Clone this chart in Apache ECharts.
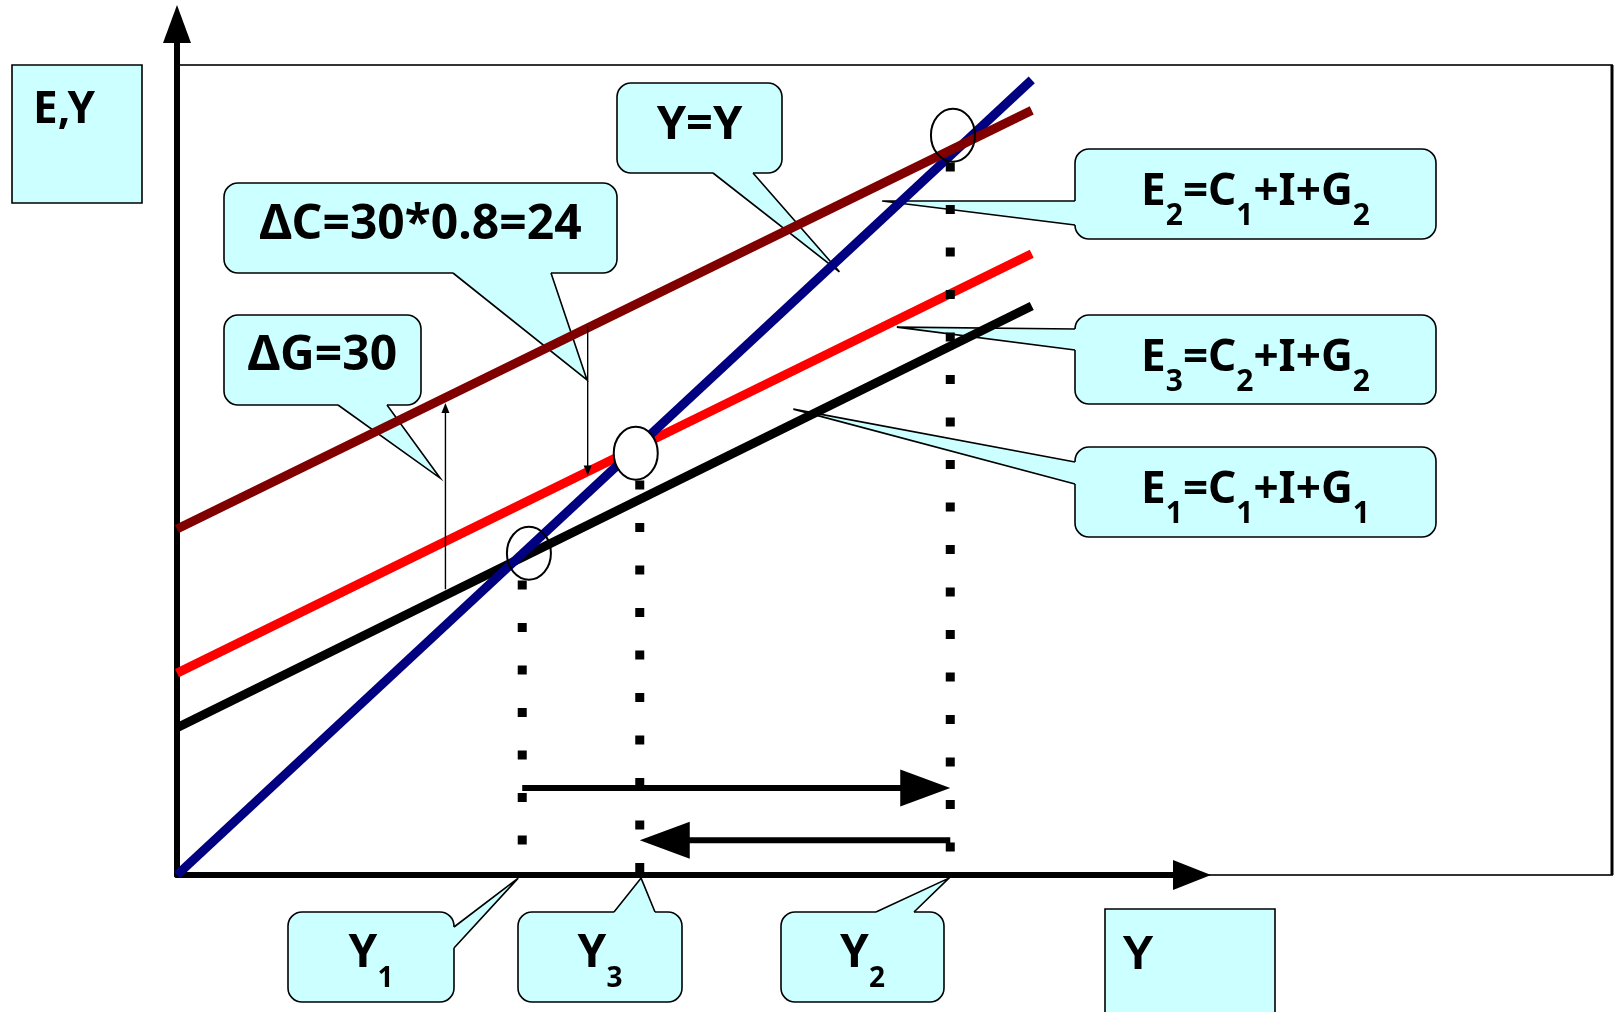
<!DOCTYPE html>
<html>
<head>
<meta charset="utf-8">
<script src="https://cdn.jsdelivr.net/npm/echarts@6/dist/echarts.min.js"></script>
<style>
  html, body { margin: 0; padding: 0; background: #ffffff; }
  #chart { width: 1616px; height: 1012px; }
</style>
</head>
<body>
<div id="chart"></div>
<script>
// Keynesian cross: a rise in G shifts E1 to E2, a fall in C then pulls it back to E3.

// ---------- data (axis units) ----------
const axisMaxY = 137;          // E,Y axis
const axisMaxX = 152;          // Y axis

const lineSpan = [0, 128];              // income range over which the lines are drawn
const outputLine = [0, 128];            // Y = Y (45-degree line)
const expenditure1 = [23.7, 91.6];      // E1 = C1 + I + G1
const expenditure3 = [32.5, 100.0];     // E3 = C2 + I + G2
const expenditure2 = [55.7, 123.1];     // E2 = C1 + I + G2

const equilibriumIncome = [51.7, 69.3, 115.8];   // Y1, Y3, Y2
const dropLineTop = [47.4, 63.5, 114.7];         // upper end of each dotted drop line
const ringX = [52.7, 68.7, 116.2];
const ringY = [51.8, 67.9, 119.1];

const deltaG = 30;
const deltaC = 24;
const deltaGBase = [40.2, 46.0];   // [Y, E] foot of the government-spending arrow
const deltaCTop = [61.5, 88.3];    // [Y, E] head of the consumption arrow
const shiftHeights = [14.0, 5.6];  // levels of the Y1->Y2 and Y2->Y3 arrows

// points the callouts refer to
const calloutTipX = [105.6, 107.8, 92.3, 99.2, 61.4, 39.4, 51.1, 69.5, 115.6];
const calloutTipY = [108.5, 88.2, 75.0, 97.1, 79.7, 63.9, -0.5, -0.5, -0.5];

// callout texts: 'm' = main run, 's' = subscript
const calloutText = [
  [['E', 'm'], ['2', 's'], ['=C', 'm'], ['1', 's'], ['+I+G', 'm'], ['2', 's']],
  [['E', 'm'], ['3', 's'], ['=C', 'm'], ['2', 's'], ['+I+G', 'm'], ['2', 's']],
  [['E', 'm'], ['1', 's'], ['=C', 'm'], ['1', 's'], ['+I+G', 'm'], ['1', 's']],
  [['Y=Y', 'm']],
  [['ΔC=30*0.8=24', 'm']],
  [['ΔG=30', 'm']],
  [['Y', 'm'], ['1', 's']],
  [['Y', 'm'], ['3', 's']],
  [['Y', 'm'], ['2', 's']]
];

// ---------- layout & style ----------
const FONT = '"Noto Sans", "DejaVu Sans", sans-serif';
const CYAN = '#ccffff';
const GRID = { left: 177, top: 24, width: 1015, height: 851 };
const LINE_WIDTH = 9;

const calloutLayout = [
  { box: [1075, 149, 361, 90], side: 'left', base: [201, 225], size: 44, sub: 30, drop: 20, baseline: 56 },
  { box: [1075, 315, 361, 89], side: 'left', base: [329, 350], size: 44, sub: 30, drop: 20, baseline: 56 },
  { box: [1075, 447, 361, 90], side: 'left', base: [462, 484], size: 44, sub: 30, drop: 20, baseline: 56 },
  { box: [617, 83, 165, 90], side: 'bottom', base: [713, 753], size: 47, baseline: 56 },
  { box: [224, 183, 393, 90], side: 'bottom', base: [453, 551], size: 48, baseline: 55.5 },
  { box: [224, 315, 197, 90], side: 'bottom', base: [338, 387], size: 48, baseline: 55 },
  { box: [288, 912, 166, 90], side: 'right', base: [927, 948], size: 46, sub: 28, drop: 20, baseline: 55 },
  { box: [518, 912, 164, 90], side: 'top', base: [614, 655], size: 46, sub: 28, drop: 20, baseline: 55 },
  { box: [781, 912, 163, 90], side: 'top', base: [876, 914], size: 46, sub: 28, drop: 20, baseline: 55 }
];

const ringFill = [null, '#ffffff', null];
const arrowStyle = [
  { width: 6, head: 50, headWidth: 37 },
  { width: 6, head: 50, headWidth: 37 },
  { width: 1.4, head: 10, headWidth: 8 },
  { width: 1.4, head: 10, headWidth: 8 }
];

// ---------- text helpers ----------
const measureCtx = document.createElement('canvas').getContext('2d');
function fontOf(size, family) { return 'bold ' + size + 'px ' + (family || FONT); }
function baselineShift(size, family) {
  measureCtx.font = fontOf(size, family);
  measureCtx.textBaseline = 'middle';
  return measureCtx.measureText('H').actualBoundingBoxDescent;
}
function textRun(parts, cx, baseY, L) {
  const pieces = parts.map(function (p) {
    const size = p[1] === 's' ? L.sub : L.size;
    measureCtx.font = fontOf(size);
    return { t: p[0], size: size, w: measureCtx.measureText(p[0]).width, dy: p[1] === 's' ? L.drop : 0 };
  });
  const total = pieces.reduce(function (s, p) { return s + p.w; }, 0);
  let x = cx - total / 2;
  return pieces.map(function (p) {
    const el = {
      type: 'text',
      style: {
        text: p.t, x: x, y: baseY + p.dy - baselineShift(p.size),
        fontSize: p.size, fontWeight: 'bold', fontFamily: FONT,
        fill: '#000', align: 'left', verticalAlign: 'middle'
      }
    };
    x += p.w;
    return el;
  });
}

// ---------- renderers ----------
function renderCallout(params, api) {
  const i = params.dataIndex;
  const L = calloutLayout[i];
  const tip = api.coord([api.value(0), api.value(1)]);
  const bx = L.box[0], by = L.box[1], bw = L.box[2], bh = L.box[3];
  let a, b, inset;
  if (L.side === 'left') { a = [bx, L.base[0]]; b = [bx, L.base[1]]; inset = [3, 0]; }
  else if (L.side === 'right') { a = [bx + bw, L.base[0]]; b = [bx + bw, L.base[1]]; inset = [-3, 0]; }
  else if (L.side === 'top') { a = [L.base[0], by]; b = [L.base[1], by]; inset = [0, 3]; }
  else { a = [L.base[0], by + bh]; b = [L.base[1], by + bh]; inset = [0, -3]; }
  const aIn = [a[0] + inset[0], a[1] + inset[1]];
  const bIn = [b[0] + inset[0], b[1] + inset[1]];
  const children = [
    { type: 'rect', shape: { x: bx, y: by, width: bw, height: bh, r: 14 },
      style: { fill: CYAN, stroke: '#000', lineWidth: 1.6 } },
    { type: 'polygon', shape: { points: [aIn, a, tip, b, bIn] }, style: { fill: CYAN } },
    { type: 'polyline', shape: { points: [a, tip, b] },
      style: { fill: null, stroke: '#000', lineWidth: 1.6 } }
  ].concat(textRun(calloutText[i], bx + bw / 2, by + L.baseline, L));
  return { type: 'group', children: children };
}

function renderDropLine(params, api) {
  const top = api.coord([api.value(0), api.value(1)]);
  const bottom = api.coord([api.value(0), 0]);
  return {
    type: 'line',
    shape: { x1: top[0], y1: top[1], x2: bottom[0], y2: bottom[1] },
    style: { stroke: '#000', lineWidth: 9, lineDash: [9, 33.5], lineCap: 'butt' }
  };
}

function renderRing(params, api) {
  const c = api.coord([api.value(0), api.value(1)]);
  return {
    type: 'ellipse',
    shape: { cx: c[0], cy: c[1], rx: 22, ry: 26.5 },
    style: { fill: ringFill[params.dataIndex] || 'none', stroke: '#000', lineWidth: 2 }
  };
}

function renderArrow(params, api) {
  const s = arrowStyle[params.dataIndex];
  const p1 = api.coord([api.value(0), api.value(1)]);
  const p2 = api.coord([api.value(2), api.value(3)]);
  const dx = p2[0] - p1[0], dy = p2[1] - p1[1];
  const len = Math.sqrt(dx * dx + dy * dy);
  const ux = dx / len, uy = dy / len;
  const bx = p2[0] - ux * s.head, by = p2[1] - uy * s.head;
  const px = -uy * s.headWidth / 2, py = ux * s.headWidth / 2;
  return {
    type: 'group',
    children: [
      { type: 'line', shape: { x1: p1[0], y1: p1[1], x2: bx + ux, y2: by + uy },
        style: { stroke: '#000', lineWidth: s.width } },
      { type: 'polygon', shape: { points: [[p2[0], p2[1]], [bx + px, by + py], [bx - px, by - py]] },
        style: { fill: '#000' } }
    ]
  };
}

// ---------- series data ----------
function linePoints(values) { return lineSpan.map(function (x, i) { return [x, values[i]]; }); }

const calloutData = calloutTipX.map(function (x, i) { return [x, calloutTipY[i]]; });
const dropData = equilibriumIncome.map(function (y, i) { return [y, dropLineTop[i]]; });
const ringData = ringX.map(function (x, i) { return [x, ringY[i]]; });
const arrowData = [
  [equilibriumIncome[0], shiftHeights[0], equilibriumIncome[2], shiftHeights[0]],
  [equilibriumIncome[2], shiftHeights[1], equilibriumIncome[1], shiftHeights[1]],
  [deltaGBase[0], deltaGBase[1], deltaGBase[0], deltaGBase[1] + deltaG],
  [deltaCTop[0], deltaCTop[1], deltaCTop[0], deltaCTop[1] - deltaC]
];

function axisCommon(max, symbolSize) {
  return {
    type: 'value', min: 0, max: max,
    axisLine: { show: true, symbol: ['none', 'triangle'], symbolSize: symbolSize,
      lineStyle: { color: '#000', width: 6 } },
    axisTick: { show: false }, axisLabel: { show: false }, splitLine: { show: false }
  };
}

const Y_FONT = '"Liberation Sans", Arial, sans-serif';

const chart = echarts.init(document.getElementById('chart'), null, { renderer: 'canvas' });
chart.setOption({
  animation: false,
  backgroundColor: '#ffffff',
  grid: GRID,
  xAxis: axisCommon(axisMaxX, [30, 38]),
  yAxis: axisCommon(axisMaxY, [28, 38]),
  graphic: [
    { type: 'rect', shape: { x: 177, y: 65, width: 1435, height: 810 },
      style: { fill: null, stroke: '#333', lineWidth: 1.8 } },
    { type: 'line', shape: { x1: 1612, y1: 65, x2: 1612, y2: 875 },
      style: { stroke: '#000', lineWidth: 3 } },
    { type: 'rect', shape: { x: 12, y: 65, width: 130, height: 138 },
      style: { fill: CYAN, stroke: '#000', lineWidth: 1.6 } },
    { type: 'text', x: 33, y: 123 - baselineShift(44),
      style: { text: 'E,Y', fontSize: 44, fontWeight: 'bold', fontFamily: FONT, fill: '#000',
        align: 'left', verticalAlign: 'middle' } },
    { type: 'rect', shape: { x: 1105, y: 909, width: 170, height: 120 },
      style: { fill: CYAN, stroke: '#000', lineWidth: 1.6 } },
    { type: 'text', x: 1122, y: 969 - baselineShift(48, Y_FONT),
      style: { text: 'Y', fontSize: 48, fontWeight: 'bold', fontFamily: Y_FONT, fill: '#000',
        align: 'left', verticalAlign: 'middle' } }
  ],
  series: [
    { type: 'custom', name: 'callouts', z: 1, clip: false, renderItem: renderCallout, data: calloutData, silent: true },
    { type: 'line', name: 'E1', z: 2, data: linePoints(expenditure1), symbol: 'none', silent: true,
      clip: false, lineStyle: { color: '#000000', width: LINE_WIDTH } },
    { type: 'line', name: 'E3', z: 2, data: linePoints(expenditure3), symbol: 'none', silent: true,
      clip: false, lineStyle: { color: '#ff0000', width: LINE_WIDTH } },
    { type: 'line', name: 'Y=Y', z: 2, data: linePoints(outputLine), symbol: 'none', silent: true,
      clip: false, lineStyle: { color: '#000080', width: LINE_WIDTH } },
    { type: 'line', name: 'E2', z: 2, data: linePoints(expenditure2), symbol: 'none', silent: true,
      clip: false, lineStyle: { color: '#800000', width: LINE_WIDTH } },
    { type: 'custom', name: 'drop lines', z: 3, clip: false, renderItem: renderDropLine, data: dropData, silent: true },
    { type: 'custom', name: 'arrows', z: 3, clip: false, renderItem: renderArrow, data: arrowData, silent: true },
    { type: 'custom', name: 'equilibria', z: 4, clip: false, renderItem: renderRing, data: ringData, silent: true }
  ]
});
</script>
</body>
</html>
